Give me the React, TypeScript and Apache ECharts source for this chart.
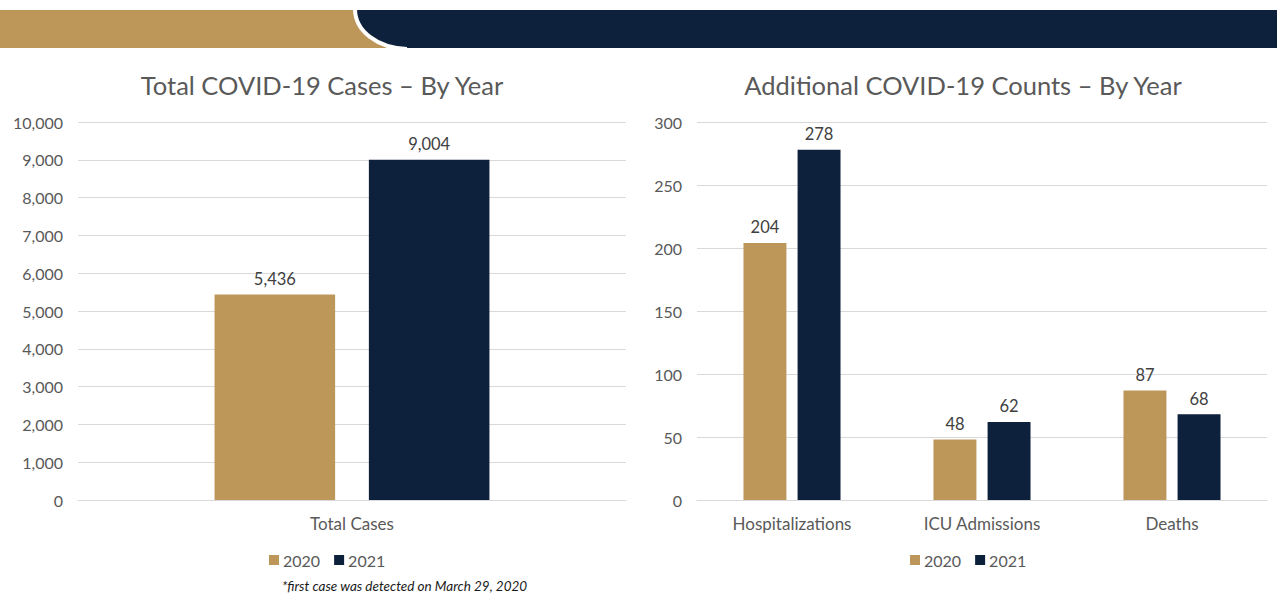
import React, { useEffect, useRef } from "react";
import * as echarts from "echarts";

// Series values
const years = ["2020", "2021"];
const totalCategories = ["Total Cases"];
const totalCases2020 = [5436];
const totalCases2021 = [9004];

const countCategories = ["Hospitalizations", "ICU Admissions", "Deaths"];
const counts2020 = [204, 48, 87];
const counts2021 = [278, 62, 68];

const leftTitle = "Total COVID-19 Cases \u2013 By Year";
const rightTitle = "Additional COVID-19 Counts \u2013 By Year";
const footnote = "*first case was detected on March 29, 2020";

const GOLD = "#bd965a";
const NAVY = "#0e213c";
const AXIS_TEXT = "#595959";
const LABEL_TEXT = "#404040";
const GRID_LINE = "#d9d9d9";
const FONT = "Lato, 'Open Sans', sans-serif";

// Navy banner with a curved left edge
echarts.graphic.registerShape(
  "bannerNavy",
  echarts.graphic.extendPath(
    "M355,10 C355,31 377.4,48 405,48 L1277,48 L1277,10 Z",
    {}
  )
);

const fmt = (v: number) => v.toLocaleString("en-US");

export default function App() {
  const ref = useRef<HTMLDivElement>(null);

  useEffect(() => {
    if (!ref.current) return;
    const chart = echarts.init(ref.current, null, { renderer: "svg" });

    const valueLabel = {
      show: true,
      position: "top" as const,
      distance: 7,
      color: LABEL_TEXT,
      fontSize: 16.5,
      fontFamily: FONT,
      formatter: (p: any) => fmt(p.value),
    };

    const catAxis = (gridIndex: number, data: string[]) => ({
      type: "category" as const,
      gridIndex,
      data,
      axisLine: { show: true, lineStyle: { color: GRID_LINE, width: 1 } },
      axisTick: { show: false },
      axisLabel: { color: AXIS_TEXT, fontSize: 17, fontFamily: FONT, margin: 15 },
    });

    const valAxis = (gridIndex: number, max: number, interval: number) => ({
      type: "value" as const,
      gridIndex,
      min: 0,
      max,
      interval,
      axisLine: { show: false },
      axisTick: { show: false },
      splitLine: { lineStyle: { color: GRID_LINE, width: 1 } },
      axisLabel: {
        color: AXIS_TEXT,
        fontSize: 16,
        fontFamily: FONT,
        margin: 15,
        formatter: (v: number) => fmt(v),
      },
    });

    const legendBase = {
      data: years,
      itemWidth: 10,
      itemHeight: 10,
      itemGap: 14,
      icon: "rect",
      textStyle: { color: AXIS_TEXT, fontSize: 16, fontFamily: FONT, padding: [0, 0, 0, -1] },
      selectedMode: false,
    };

    chart.setOption({
      animation: false,
      color: [GOLD, NAVY],
      grid: [
        { left: 78, right: 1277 - 626, top: 122, bottom: 95, containLabel: false },
        { left: 697, right: 10, top: 122, bottom: 95, containLabel: false },
      ],
      xAxis: [catAxis(0, totalCategories), catAxis(1, countCategories)],
      yAxis: [valAxis(0, 10000, 1000), valAxis(1, 300, 50)],
      legend: [
        { ...legendBase, left: 264, top: 547 },
        { ...legendBase, left: 905, top: 547 },
      ],
      series: [
        {
          name: years[0],
          type: "bar",
          xAxisIndex: 0,
          yAxisIndex: 0,
          data: totalCases2020,
          barWidth: "22%",
          barGap: "28%",
          itemStyle: { color: GOLD },
          label: valueLabel,
        },
        {
          name: years[1],
          type: "bar",
          xAxisIndex: 0,
          yAxisIndex: 0,
          data: totalCases2021,
          barWidth: "22%",
          barGap: "28%",
          itemStyle: { color: NAVY },
          label: valueLabel,
        },
        {
          name: years[0],
          type: "bar",
          xAxisIndex: 1,
          yAxisIndex: 1,
          data: counts2020,
          barWidth: "22.6%",
          barGap: "26%",
          itemStyle: { color: GOLD },
          label: valueLabel,
        },
        {
          name: years[1],
          type: "bar",
          xAxisIndex: 1,
          yAxisIndex: 1,
          data: counts2021,
          barWidth: "22.6%",
          barGap: "26%",
          itemStyle: { color: NAVY },
          label: valueLabel,
        },
      ],
      graphic: [
        {
          type: "rect",
          shape: { x: 0, y: 10, width: 420, height: 38 },
          style: { fill: GOLD },
          silent: true,
        },
        {
          type: "bannerNavy",
          x: 0,
          y: 0,
          style: { fill: NAVY },
          silent: true,
        },
        {
          type: "bezierCurve",
          shape: { x1: 355, y1: 9, cpx1: 355, cpy1: 31, cpx2: 377.4, cpy2: 48, x2: 407, y2: 49 },
          style: { stroke: "#ffffff", lineWidth: 4, fill: "none" },
          silent: true,
        },
        {
          type: "text",
          x: 322,
          y: 85,
          style: {
            text: leftTitle,
            fill: AXIS_TEXT,
            font: `25.5px ${FONT}`,
            textAlign: "center",
            textVerticalAlign: "middle",
          },
        },
        {
          type: "text",
          x: 963,
          y: 85,
          style: {
            text: rightTitle,
            fill: AXIS_TEXT,
            font: `25.5px ${FONT}`,
            textAlign: "center",
            textVerticalAlign: "middle",
          },
        },
        {
          type: "text",
          x: 282,
          y: 586,
          style: {
            text: footnote,
            fill: "#1a1a1a",
            font: `italic 13.5px ${FONT}`,
            textAlign: "left",
            textVerticalAlign: "middle",
          },
        },
      ],
    });

    return () => chart.dispose();
  }, []);

  return (
    <div
      ref={ref}
      style={{ position: "fixed", left: 0, top: 0, width: 1277, height: 595, background: "#ffffff" }}
    />
  );
}
